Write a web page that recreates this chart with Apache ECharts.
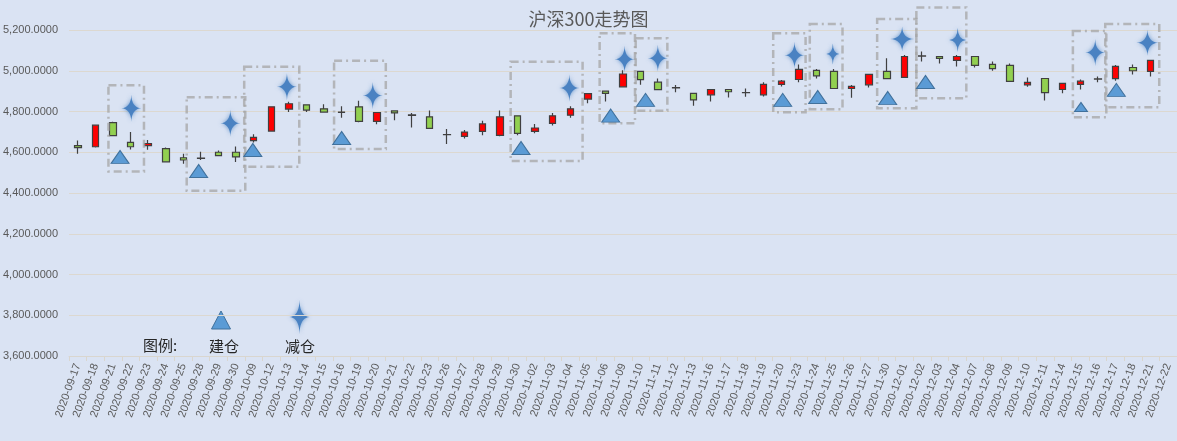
<!DOCTYPE html>
<html>
<head>
<meta charset="utf-8">
<title>沪深300走势图</title>
<script src="https://cdn.jsdelivr.net/npm/echarts@6/dist/echarts.min.js"></script>
<style>
    html, body {margin: 0; padding: 0; background: #DAE3F3;}
    #mainChart {width: 1177px; height: 441px;}
</style>
</head>
<body>
<div id="mainChart"></div>
<script>
// 交易日
var dates = ['2020-09-17', '2020-09-18', '2020-09-21', '2020-09-22', '2020-09-23', '2020-09-24', '2020-09-25',
    '2020-09-28', '2020-09-29', '2020-09-30', '2020-10-09', '2020-10-12', '2020-10-13', '2020-10-14', '2020-10-15',
    '2020-10-16', '2020-10-19', '2020-10-20', '2020-10-21', '2020-10-22', '2020-10-23', '2020-10-26', '2020-10-27',
    '2020-10-28', '2020-10-29', '2020-10-30', '2020-11-02', '2020-11-03', '2020-11-04', '2020-11-05', '2020-11-06',
    '2020-11-09', '2020-11-10', '2020-11-11', '2020-11-12', '2020-11-13', '2020-11-16', '2020-11-17', '2020-11-18',
    '2020-11-19', '2020-11-20', '2020-11-23', '2020-11-24', '2020-11-25', '2020-11-26', '2020-11-27', '2020-11-30',
    '2020-12-01', '2020-12-02', '2020-12-03', '2020-12-04', '2020-12-07', '2020-12-08', '2020-12-09', '2020-12-10',
    '2020-12-11', '2020-12-14', '2020-12-15', '2020-12-16', '2020-12-17', '2020-12-18', '2020-12-21', '2020-12-22'];

// 开盘 / 收盘 / 最低 / 最高 (12-22 无数据)
var openVals = [4633, 4627, 4745, 4648, 4633, 4618, 4573, 4571, 4600, 4600, 4657, 4704, 4812, 4833, 4813, 4797,
    4823, 4752, 4803, 4783, 4774, 4687, 4678, 4702, 4683, 4779, 4702, 4742, 4782, 4861, 4900, 4921, 4997, 4944,
    4917, 4889, 4882, 4908, 4893, 4882, 4933, 4957, 5002, 4997, 4913, 4931, 4997, 4967, 5073, 5070, 5051, 5070,
    5031, 5026, 4931, 4962, 4908, 4933, 4960, 4961, 5016, 4997, null];
var closeVals = [4623, 4733, 4682, 4627, 4643, 4553, 4562, 4570, 4583, 4577, 4673, 4823, 4838, 4807, 4797, 4796,
    4752, 4795, 4793, 4781, 4717, 4686, 4699, 4739, 4774, 4693, 4719, 4779, 4813, 4888, 4889, 4984, 4956, 4907,
    4916, 4857, 4908, 4897, 4892, 4933, 4949, 5007, 4975, 4913, 4923, 4982, 4961, 5070, 5072, 5061, 5070, 5026,
    5010, 4948, 4943, 4893, 4938, 4949, 4959, 5021, 5000, 5051, null];
var lowVals = [4593, 4623, 4680, 4613, 4612, 4551, 4543, 4562, 4580, 4552, 4648, 4702, 4797, 4797, 4795, 4769,
    4747, 4737, 4757, 4722, 4715, 4640, 4668, 4683, 4678, 4683, 4693, 4731, 4769, 4840, 4849, 4920, 4931, 4905,
    4895, 4828, 4849, 4869, 4872, 4874, 4923, 4943, 4962, 4911, 4867, 4918, 4959, 4965, 5046, 5036, 5021, 5016,
    5000, 4946, 4921, 4854, 4889, 4908, 4943, 4951, 4982, 4972, null];
var highVals = [4658, 4736, 4750, 4700, 4660, 4623, 4593, 4603, 4608, 4628, 4688, 4825, 4848, 4835, 4835, 4826,
    4853, 4797, 4805, 4793, 4805, 4714, 4709, 4755, 4805, 4781, 4739, 4793, 4826, 4890, 4901, 5003, 4999, 4962,
    4930, 4890, 4910, 4909, 4913, 4944, 4954, 5031, 5008, 5008, 4930, 4984, 5061, 5077, 5095, 5072, 5077, 5072,
    5046, 5036, 4967, 4964, 4940, 4957, 4972, 5028, 5031, 5053, null];

// 建仓 (位置: 交易日序号, 点位)
var buyX = [2.4, 6.87, 9.95, 15.0, 25.2, 30.3, 32.28, 40.08, 42.07, 46.05, 48.2, 57.04, 59.05];
var buyY = [4577, 4508, 4611, 4670, 4621, 4780, 4857, 4857, 4871, 4866, 4945, 4822, 4906];
// 减仓
var sellX = [3.04, 8.67, 11.89, 16.77, 27.95, 31.09, 32.98, 40.75, 42.93, 46.87, 50.03, 57.85, 60.82];
var sellY = [4816, 4742, 4922, 4879, 4915, 5056, 5061, 5076, 5082, 5156, 5151, 5090, 5138];
// 虚线框 (起止序号, 上下点位)
var boxX0 = [1.74, 6.19, 9.46, 14.57, 24.61, 29.67, 31.72, 39.54, 41.62, 45.45, 47.68, 56.58, 58.42];
var boxX1 = [3.76, 9.52, 12.59, 17.51, 28.7, 31.68, 33.52, 41.38, 43.48, 47.68, 50.52, 58.48, 61.49];
var boxTop = [4929, 4870, 5020, 5049, 5044, 5184, 5159, 5184, 5229, 5254, 5311, 5195, 5229];
var boxBottom = [4506, 4411, 4529, 4616, 4557, 4742, 4804, 4796, 4811, 4816, 4865, 4772, 4821];

var yTicks = {min: 3600, max: 5200, interval: 200};

// 四角星, 边往里凹
var STAR = 'path://M50,0 Q52,48 100,50 Q52,52 50,100 Q48,52 0,50 Q48,48 50,0 Z';
var FONT = 'Liberation Sans';

var myChart = echarts.init(document.getElementById('mainChart'));

var kData = [];
for (var i = 0; i < dates.length; i++) {
    if (openVals[i] == null) {
        kData.push('-');
    } else {
        kData.push([openVals[i], closeVals[i], lowVals[i], highVals[i]]);
    }
}
var buyData = buyX.map(function (x, i) { return [x, buyY[i]]; });
var sellData = sellX.map(function (x, i) { return [x, sellY[i]]; });
var boxData = boxX0.map(function (x, i) { return [x, boxX1[i], boxTop[i], boxBottom[i]]; });

// 个别图形大小不同
var buySize = function (val, params) {
    return params.dataIndex == 11 ? [13, 9] : [18, 13];
};
var sellSize = function (val, params) {
    var s = {8: [13, 21], 9: [24, 25], 10: [17, 24], 12: [22, 26]};
    return s[params.dataIndex] || [20, 27];
};

function fmtNum(v) {
    var parts = v.toFixed(4).split('.');
    return parts[0].replace(/\B(?=(\d{3})+(?!\d))/g, ',') + '.' + parts[1];
}

// 图例里的四角星 (曲边), 用折线点近似
function starPoints(cx, cy, w, h) {
    var tips = [[0, -1], [1, 0], [0, 1], [-1, 0]];
    var pts = [];
    for (var k = 0; k < 4; k++) {
        var a = tips[k], b = tips[(k + 1) % 4];
        var c = [(a[0] + b[0]) * 0.04, (a[1] + b[1]) * 0.04];
        for (var t = 0; t < 1; t += 0.1) {
            var x = (1 - t) * (1 - t) * a[0] + 2 * t * (1 - t) * c[0] + t * t * b[0];
            var y = (1 - t) * (1 - t) * a[1] + 2 * t * (1 - t) * c[1] + t * t * b[1];
            pts.push([cx + x * w / 2, cy + y * h / 2]);
        }
    }
    return pts;
}

var legendFont = '15px "Noto Sans CJK SC"';

var option = {
    backgroundColor: '#DAE3F3',
    animation: false,
    title: {
        text: '沪深300走势图',
        left: 'center',
        top: 5,
        textStyle: {fontFamily: 'Noto Sans CJK SC', fontSize: 18, fontWeight: 'normal', color: '#595959'}
    },
    grid: {left: 68, right: 0, top: 30, bottom: 85},
    xAxis: [{
        type: 'category',
        data: dates,
        axisLine: {lineStyle: {color: '#D9D6CF'}},
        axisTick: {show: true, length: 5, lineStyle: {color: '#D9D6CF'}},
        axisLabel: {interval: 0, rotate: 70, margin: 8, fontFamily: FONT, fontSize: 11, color: '#595959'}
    }, {
        type: 'value',
        min: -0.5,
        max: dates.length - 0.5,
        show: false
    }],
    yAxis: {
        type: 'value',
        min: yTicks.min,
        max: yTicks.max,
        interval: yTicks.interval,
        axisLine: {show: false},
        axisTick: {show: false},
        splitLine: {lineStyle: {color: '#DCD8D0'}},
        axisLabel: {margin: 11, fontFamily: FONT, fontSize: 11, color: '#595959', formatter: fmtNum}
    },
    series: [{
        type: 'candlestick',
        data: kData,
        barWidth: 7,
        itemStyle: {
            color: '#FF0000',
            color0: '#92D050',
            borderColor: '#404040',
            borderColor0: '#404040',
            borderColorDoji: '#404040',
            borderWidth: 1.2
        }
    }, {
        // 虚线框
        type: 'custom',
        xAxisIndex: 1,
        clip: false,
        silent: true,
        z: 3,
        data: boxData,
        encode: {x: [0, 1], y: [2, 3]},
        renderItem: function (params, api) {
            var p0 = api.coord([api.value(0), api.value(2)]);
            var p1 = api.coord([api.value(1), api.value(3)]);
            return {
                type: 'rect',
                shape: {x: p0[0], y: p0[1], width: p1[0] - p0[0], height: p1[1] - p0[1]},
                style: {fill: 'none', stroke: 'rgba(165,165,165,0.75)', lineWidth: 2.5, lineDash: [8, 4, 2, 4]}
            };
        }
    }, {
        name: '建仓',
        type: 'scatter',
        xAxisIndex: 1,
        clip: false,
        z: 4,
        symbol: 'triangle',
        symbolSize: buySize,
        data: buyData,
        itemStyle: {color: '#5B9BD5', borderColor: '#41719C', borderWidth: 1, opacity: 1}
    }, {
        name: '减仓',
        type: 'scatter',
        xAxisIndex: 1,
        clip: false,
        z: 4,
        symbol: STAR,
        symbolSize: sellSize,
        data: sellData,
        itemStyle: {color: '#4A82C2', shadowBlur: 4, shadowColor: 'rgba(76,132,196,0.8)', opacity: 1}
    }],
    // 图例
    graphic: [
        {type: 'text', x: 143, y: 338, style: {text: '图例:', font: legendFont, fill: '#262626'}},
        {type: 'polygon', shape: {points: [[221, 311], [230.5, 329], [211.5, 329]]},
            style: {fill: '#5B9BD5', stroke: '#41719C', lineWidth: 1, lineJoin: 'round'}},
        {type: 'text', x: 209, y: 339, style: {text: '建仓', font: legendFont, fill: '#262626'}},
        {type: 'polygon', shape: {points: starPoints(299.5, 317, 20, 34)},
            style: {fill: '#4A82C2', shadowBlur: 4, shadowColor: 'rgba(76,132,196,0.8)'}},
        {type: 'text', x: 285, y: 339, style: {text: '减仓', font: legendFont, fill: '#262626'}}
    ]
};
myChart.setOption(option);
</script>
</body>
</html>
